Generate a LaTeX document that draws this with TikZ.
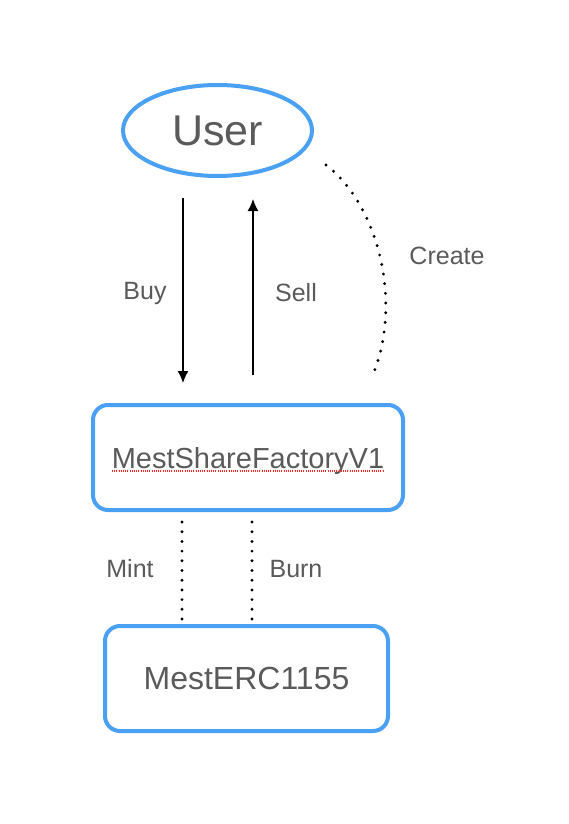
\documentclass[tikz,border=0pt]{standalone}
\usepackage{fontspec}
\setmainfont{Liberation Sans}
\usetikzlibrary{arrows.meta,shapes.geometric}
\definecolor{boxblue}{HTML}{4AA0F2}
\definecolor{txtgray}{HTML}{5A5A5A}
\tikzstyle{every node}=[text=txtgray]
\tikzstyle{actor}=[draw=boxblue,line width=4pt,ellipse,minimum width=189pt,minimum height=91pt,inner sep=0pt,font=\fontsize{43}{43}\selectfont]
\tikzstyle{contract}=[draw=boxblue,line width=4pt,rounded corners=15pt,minimum height=105pt,inner sep=0pt]
\tikzstyle{lbl}=[font=\fontsize{25}{25}\selectfont]
\tikzstyle{flow}=[line width=1.5pt,-{Latex[length=12pt,width=11pt]}]
\tikzstyle{dots}=[line width=3.2pt,line cap=round,dash pattern=on 0pt off 9.7pt]
\tikzstyle{spell}=[draw=red!85,line width=1.2pt,dash pattern=on 1pt off 1.2pt]

\begin{document}
\begin{tikzpicture}[x=1pt,y=-1pt]
    \useasboundingbox[fill=white] (0,0) rectangle (568,824);
    \node[actor] (user) at (217.5,130.5) {User};
    \node[contract,minimum width=310pt,text depth=0pt,font=\fontsize{29}{29}\selectfont] (fac) at (248,457.5) {MestShareFactoryV1};
    \node[contract,minimum width=283pt,font=\fontsize{32}{32}\selectfont] (erc) at (246.5,678.5) {MestERC1155};
    % trading
    \draw[flow,shorten <=20pt,shorten >=20pt] ([xshift=-34.5pt]user.south) -- ([xshift=-65pt]fac.north);
    \draw[flow,shorten <=28pt,shorten >=21pt] ([xshift=5pt]fac.north) -- ([xshift=35.5pt]user.south);
    \node[lbl] (buy) at (145,293) {Buy};
    \node[lbl] (sell) at (296,293) {Sell};
    % creation
    \coordinate (crA) at (326,165);
    \coordinate (crB) at (374,372);
    \draw[dots] (crA) .. controls (378,205) and (402,300) .. (crB);
    \node[lbl] (create) at (447,256) {Create};
    % token
    \draw[dots,shorten <=10pt,shorten >=4pt] ([xshift=-66pt]fac.south) -- ([xshift=-64.5pt]erc.north);
    \draw[dots,shorten <=10pt,shorten >=4pt] ([xshift=4pt]fac.south) -- ([xshift=5.5pt]erc.north);
    \node[lbl] (mint) at (130,569) {Mint};
    \node[lbl] (burn) at (296,569) {Burn};
    \draw[spell] ([xshift=-136pt,yshift=-3pt]fac.base) -- ([xshift=135pt,yshift=-3pt]fac.base);
\end{tikzpicture}
\end{document}
